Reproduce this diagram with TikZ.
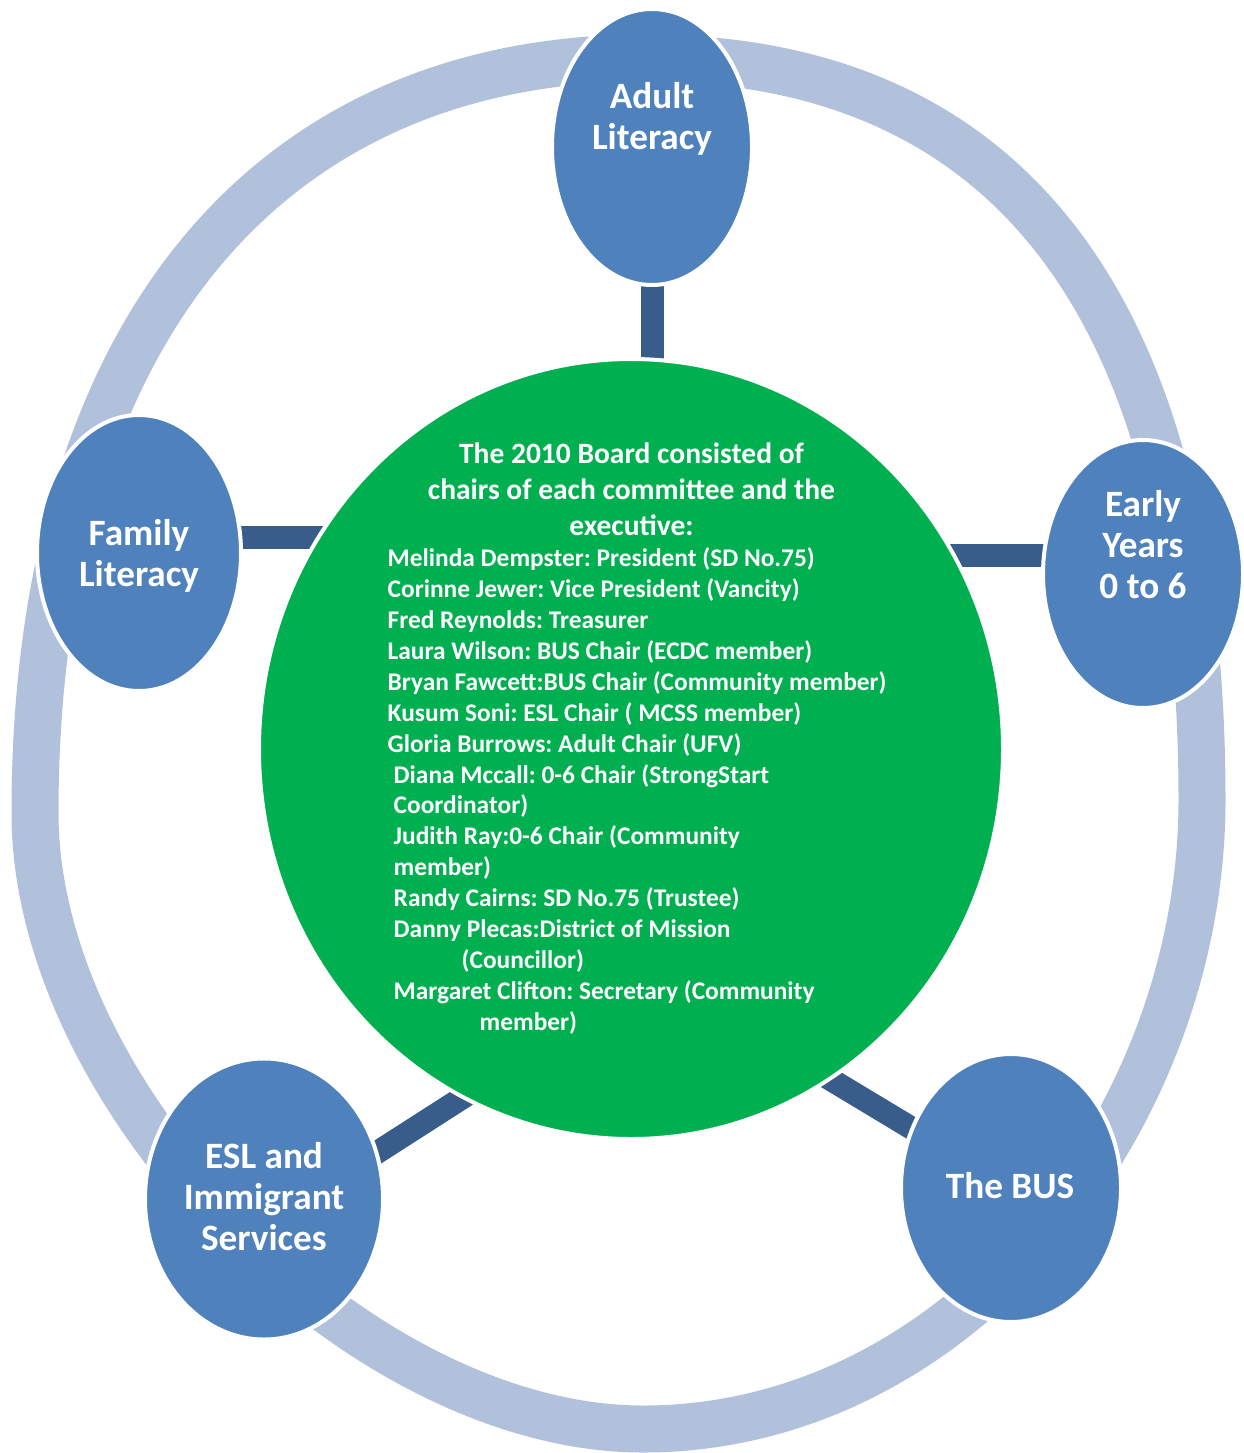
\documentclass[tikz,border=0pt]{standalone}
\usepackage{fontspec}
\setmainfont{Carlito}
\usetikzlibrary{shapes.geometric}
\definecolor{ringc}{HTML}{B1C1DC}
\definecolor{satc}{HTML}{4F81BD}
\definecolor{barc}{HTML}{385D8A}
\definecolor{greenc}{HTML}{00B050}
\pgfdeclarelayer{ringlayer}
\pgfdeclarelayer{barlayer}
\pgfsetlayers{ringlayer,barlayer,main}
\frenchspacing
\newcommand{\stackc}[1]{\begin{tabular}[t]{@{}c@{}}#1\end{tabular}}
\newcommand{\stackl}[1]{\begin{tabular}[t]{@{}l@{}}#1\end{tabular}}
\begin{document}
\begin{tikzpicture}[x=1bp,y=-1bp,
  sat/.style={ellipse, fill=satc, draw=white, line width=4bp, inner sep=0pt},
  satlbl/.style={text=white, font=\bfseries\fontsize{37.2bp}{41bp}\selectfont, anchor=base, inner sep=0pt},
  bar/.style={draw=barc, line width=23bp},
  ring/.style={draw=ringc, line width=47bp, line join=round},
  hub/.style={ellipse, fill=greenc, draw=white, line width=4bp, inner sep=0pt},
  titlelbl/.style={text=white, font=\bfseries\fontsize{29.5bp}{36bp}\selectfont, anchor=base, inner sep=0pt},
  listlbl/.style={text=white, font=\bfseries\fontsize{25.4bp}{30.9bp}\selectfont, anchor=base west, inner sep=0pt}
]
\useasboundingbox (0,0) rectangle (1243,1453);
% outer ring
\begin{pgfonlayer}{ringlayer}
\draw[ring] (645,58) .. controls (1010,58) and (1202,310) .. (1202,800)
  .. controls (1202,1120) and (960,1429) .. (643,1429)
  .. controls (360,1429) and (35,1100) .. (35,813)
  .. controls (35,330) and (270,58) .. (645,58) -- cycle;
\end{pgfonlayer}
% nodes
\node[hub, minimum width=744bp, minimum height=780bp] (green) at (631,749) {};
\node[sat, minimum width=200bp, minimum height=276bp] (adult) at (652,147) {};
\node[sat, minimum width=200bp, minimum height=268bp] (early) at (1143,574) {};
\node[sat, minimum width=220bp, minimum height=268bp] (bus) at (1011,1188) {};
\node[sat, minimum width=238bp, minimum height=281bp] (esl) at (264,1199) {};
\node[sat, minimum width=204bp, minimum height=276bp] (family) at (139,553) {};
% connector ends
\coordinate (fb) at ([yshift=15.5bp]family.center);
\coordinate (eb) at ([yshift=18.5bp]early.center);
\coordinate (busend) at (800,1061);
\coordinate (eslend) at (345,1173);
\coordinate (eslstart) at (490,1080);
% connectors (behind the ellipses)
\begin{pgfonlayer}{barlayer}
\draw[bar] (adult.center) -- (adult.center |- green.center);
\draw[bar] (fb) -- (fb -| green.center);
\draw[bar] (eb) -- (eb -| green.center);
\draw[bar] (bus.center) -- (busend);
\draw[bar] (eslend) -- (eslstart);
\end{pgfonlayer}
% labels
\node[satlbl] (adultlbl) at (652,108.3) {\stackc{Adult\\Literacy}};
\node[satlbl] (earlylbl) at (1143,516.7) {\stackc{Early\\Years\\0 to 6}};
\node[satlbl] (familylbl) at (139,545) {\stackc{Family\\Literacy}};
\node[satlbl] (esllbl) at (264,1168.3) {\stackc{ESL and\\Immigrant\\Services}};
\node[satlbl] (buslbl) at (1010,1198.3) {The BUS};
\node[titlelbl] (title) at (631.5,463.3) {\stackc{The 2010 Board consisted of\\chairs of each committee and the\\executive:}};
\node[listlbl] (members) at (387.5,566.7) {\stackl{%
Melinda Dempster: President (SD No.75)\\
Corinne Jewer: Vice President (Vancity)\\
Fred Reynolds: Treasurer\\
Laura Wilson: BUS Chair (ECDC member)\\
Bryan Fawcett:BUS Chair (Community member)\\
Kusum Soni: ESL Chair ( MCSS member)\\
Gloria Burrows: Adult Chair (UFV)\\
\hspace*{6bp}Diana Mccall: 0-6 Chair (StrongStart\\
\hspace*{6bp}Coordinator)\\
\hspace*{6bp}Judith Ray:0-6 Chair (Community\\
\hspace*{6bp}member)\\
\hspace*{6bp}Randy Cairns: SD No.75 (Trustee)\\
\hspace*{6bp}Danny Plecas:District of Mission\\
\hspace*{74bp}(Councillor)\\
\hspace*{6bp}Margaret Clifton: Secretary (Community\\
\hspace*{92bp}member)}};
\end{tikzpicture}
\end{document}
